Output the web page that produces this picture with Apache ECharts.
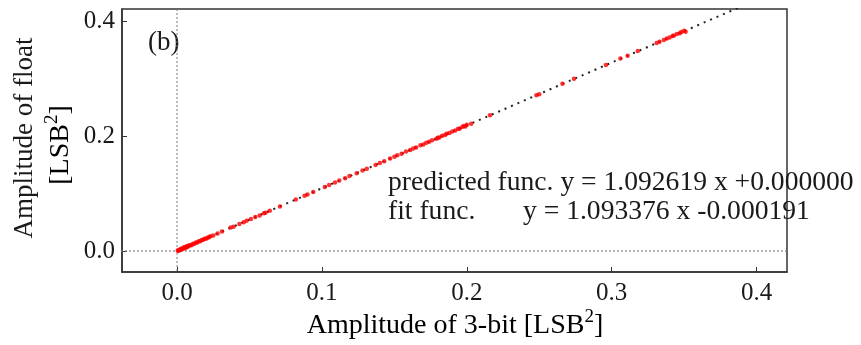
<!DOCTYPE html>
<html>
<head>
<meta charset="utf-8">
<script src="https://cdn.jsdelivr.net/npm/echarts@6/dist/echarts.min.js"></script>
<style>
  html, body { margin: 0; padding: 0; background: #fff; }
  #chart { width: 861px; height: 345px; }
</style>
</head>
<body>
<div id="chart"></div>
<script>
// Amplitude measured with 3-bit quantisation (x) vs. float (y), in LSB^2
const amp3bit = [
  0.0005, 0.0010, 0.0015, 0.0020, 0.0025, 0.0030, 0.0035, 0.0040, 0.0045, 0.0050,
  0.0055, 0.0060, 0.0065, 0.0070, 0.0075, 0.0080, 0.0090, 0.0100, 0.0110, 0.0120,
  0.0130, 0.0140, 0.0150, 0.0160, 0.0170, 0.0180, 0.0190, 0.0200, 0.0210, 0.0220,
  0.0230, 0.0250, 0.028, 0.031, 0.037, 0.039, 0.043, 0.046, 0.048, 0.051,
  0.054, 0.057, 0.060, 0.061, 0.064, 0.071, 0.082, 0.088, 0.090, 0.094,
  0.102, 0.105, 0.109, 0.112, 0.116, 0.119, 0.124, 0.128, 0.131, 0.137,
  0.140, 0.143, 0.147, 0.150, 0.152, 0.155, 0.158, 0.161, 0.163, 0.165,
  0.168, 0.170, 0.172, 0.174, 0.176, 0.179, 0.180, 0.181, 0.183, 0.185,
  0.186, 0.188, 0.190, 0.192, 0.194, 0.195, 0.197, 0.198, 0.199, 0.200,
  0.203, 0.216, 0.248, 0.250, 0.266, 0.274, 0.296, 0.306, 0.311, 0.318,
  0.331, 0.333, 0.336, 0.338, 0.340, 0.342, 0.343, 0.345, 0.347, 0.348,
  0.350, 0.351
];
const ampFloat = [
  0.0008, 0.0002, 0.0022, 0.0016, 0.0035, 0.0026, 0.0045, 0.0038, 0.0060, 0.0048,
  0.0068, 0.0058, 0.0080, 0.0070, 0.0090, 0.0082, 0.0105, 0.0102, 0.0125, 0.0128,
  0.0148, 0.0150, 0.0170, 0.0172, 0.0190, 0.0195, 0.0212, 0.0215, 0.0232, 0.0238,
  0.0255, 0.0270, 0.0305, 0.0338, 0.0408, 0.0422, 0.0472, 0.0500, 0.0528, 0.0555,
  0.0592, 0.0620, 0.0658, 0.0665, 0.0702, 0.0775, 0.0898, 0.0960, 0.0985, 0.1028,
  0.1113, 0.1150, 0.1190, 0.1228, 0.1265, 0.1303, 0.1352, 0.1400, 0.1430, 0.1498,
  0.1530, 0.1560, 0.1610, 0.1638, 0.1665, 0.1692, 0.1730, 0.1758, 0.1785, 0.1802,
  0.1840, 0.1855, 0.1882, 0.1900, 0.1928, 0.1955, 0.1972, 0.1975, 0.2005, 0.2020,
  0.2040, 0.2052, 0.2080, 0.2095, 0.2125, 0.2128, 0.2160, 0.2175, 0.2168, 0.2195,
  0.2215, 0.2360, 0.2710, 0.2725, 0.2910, 0.2995, 0.3235, 0.3348, 0.3395, 0.3480,
  0.3620, 0.3640, 0.3670, 0.3698, 0.3715, 0.3740, 0.3748, 0.3775, 0.3790, 0.3810,
  0.3830, 0.3815
];

// predicted relation y = slope * x + offset
const predSlope = 1.092619;
const predOffset = 0.0;
const predXRange = [0.0, 0.45];

const xTicks = [0.0, 0.1, 0.2, 0.3, 0.4];
const yTicks = [0.0, 0.2, 0.4];
const xExtent = [-0.038, 0.421];
const yExtent = [-0.0365, 0.421];

const predLabel = 'predicted func. y = 1.092619 x +0.000000';
const fitLabelHead = 'fit func.';
const fitLabelEq = 'y = 1.093376 x -0.000191';
const panelLabel = '(b)';

const FONT = '"Liberation Serif", "Times New Roman", serif';
const INK = '#1a1a1a';

const chart = echarts.init(document.getElementById('chart'), null, { renderer: 'canvas' });

const scatterData = amp3bit.map((x, i) => [x, ampFloat[i]]);
const predData = predXRange.map(x => [x, predSlope * x + predOffset]);

function axisCommon(ticks, margin) {
  return {
    type: 'value',
    axisLine: { show: true, onZero: false, lineStyle: { color: '#333', width: 1.5 } },
    axisTick: { show: true, inside: true, length: 5, customValues: ticks, lineStyle: { color: '#333', width: 1 } },
    axisLabel: {
      customValues: ticks, margin: margin,
      formatter: v => v.toFixed(1),
      color: INK, fontFamily: FONT, fontSize: 25
    },
    splitLine: { show: false }
  };
}

// rich styles for "[LSB^2]" with a raised exponent
const unitRich = {
  n: { fontFamily: FONT, fontSize: 28, color: INK, verticalAlign: 'bottom', padding: [4, 0, 0, 0] },
  s: { fontFamily: FONT, fontSize: 19, color: INK, verticalAlign: 'top' }
};

chart.setOption({
  animation: false,
  backgroundColor: '#fff',
  grid: {
    left: 122, right: 74, top: 9, bottom: 73,
    show: true, borderColor: '#333', borderWidth: 1.5, backgroundColor: 'transparent'
  },
  xAxis: Object.assign(axisCommon(xTicks, 9), { min: xExtent[0], max: xExtent[1] }),
  yAxis: Object.assign(axisCommon(yTicks, 7), { min: yExtent[0], max: yExtent[1] }),
  series: [
    {
      // vertical zero reference
      type: 'line', data: [[0, yExtent[0] - 1], [0, yExtent[1] + 1]],
      symbol: 'none', silent: true, clip: true,
      lineStyle: { color: '#777', width: 1.3, type: [1.5, 2.5] }, z: 1
    },
    {
      // horizontal zero reference
      type: 'line', data: [[xExtent[0] - 1, 0], [xExtent[1] + 1, 0]],
      symbol: 'none', silent: true, clip: true,
      lineStyle: { color: '#777', width: 1.3, type: [1.5, 2.5] }, z: 1
    },
    {
      // predicted function
      type: 'line', data: predData,
      symbol: 'none', silent: true, clip: true,
      lineStyle: { color: '#222', width: 2, type: [2, 5] }, z: 2
    },
    {
      type: 'scatter', data: scatterData,
      symbol: 'circle', symbolSize: 4.5,
      itemStyle: { color: '#ff0000' }, z: 3
    }
  ],
  graphic: [
    {
      type: 'text', x: 148, y: 43,
      style: { text: panelLabel, font: '27px ' + FONT, fill: INK, align: 'left', verticalAlign: 'middle' }
    },
    {
      type: 'text', x: 388, y: 183,
      style: { text: predLabel, font: '27.6px ' + FONT, fill: INK, align: 'left', verticalAlign: 'middle' }
    },
    {
      type: 'text', x: 388, y: 212,
      style: { text: fitLabelHead, font: '27.6px ' + FONT, fill: INK, align: 'left', verticalAlign: 'middle' }
    },
    {
      type: 'text', x: 523, y: 212,
      style: { text: fitLabelEq, font: '27.6px ' + FONT, fill: INK, align: 'left', verticalAlign: 'middle' }
    },
    {
      // x-axis title
      type: 'text', x: 455, y: 324,
      style: {
        text: '{n|Amplitude of 3-bit [LSB}{s|2}{n|]}',
        align: 'center', verticalAlign: 'middle', rich: unitRich
      }
    },
    {
      // y-axis title, first line
      type: 'text', x: 25, y: 138, rotation: Math.PI / 2,
      style: { text: 'Amplitude of float', font: '27px ' + FONT, fill: INK, align: 'center', verticalAlign: 'middle' }
    },
    {
      // y-axis title, second line
      type: 'text', x: 59, y: 145, rotation: Math.PI / 2,
      style: {
        text: '{n|[LSB}{s|2}{n|]}',
        align: 'center', verticalAlign: 'middle', rich: unitRich
      }
    }
  ]
});
</script>
</body>
</html>
